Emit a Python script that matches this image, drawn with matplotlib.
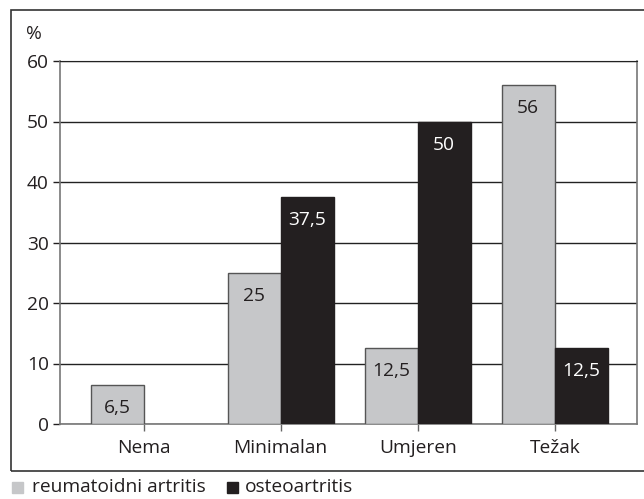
import matplotlib.pyplot as plt
from matplotlib.patches import Rectangle
import numpy as np

plt.rcParams['font.family'] = ['Open Sans', 'DejaVu Sans']

categories = ['Nema', 'Minimalan', 'Umjeren', 'Težak']
reumatoidni = [6.5, 25, 12.5, 56]
osteo = [0, 37.5, 50, 12.5]
reum_labels = ['6,5', '25', '12,5', '56']
osteo_labels = ['', '37,5', '50', '12,5']
series_names = ['reumatoidni artritis', 'osteoartritis']

gray = '#c6c7c9'
black = '#231f20'
fs = 13.8

fig = plt.figure(figsize=(6.44, 4.99), dpi=100)
ax = fig.add_axes([60 / 644, 75 / 499, 577 / 644, 363 / 499])

x = np.arange(len(categories))
w = 0.387
b1 = ax.bar(x - w / 2, reumatoidni, w, color=gray, edgecolor='#555555', linewidth=1, zorder=3)
b2 = ax.bar(x + w / 2, osteo, w, color=black, edgecolor=black, linewidth=1, zorder=3)
for rect in b2:
    if rect.get_height() == 0:
        rect.set_linewidth(0)

for rect, lab in zip(b1, reum_labels):
    ax.annotate(lab, (rect.get_x() + rect.get_width() / 2, rect.get_height()),
                xytext=(0, -23), textcoords='offset pixels', ha='center', va='center',
                fontsize=fs, color='#231f20', zorder=4)
for rect, lab in zip(b2, osteo_labels):
    if lab:
        ax.annotate(lab, (rect.get_x() + rect.get_width() / 2, rect.get_height()),
                    xytext=(0, -23), textcoords='offset pixels', ha='center', va='center',
                    fontsize=fs, color='white', zorder=4)

ax.set_xlim(-0.61, 3.6)
ax.set_ylim(0, 60)
ax.set_yticks(range(0, 61, 10))
ax.set_xticks(x)
ax.set_xticklabels(categories, fontsize=fs, color='#231f20')
ax.tick_params(axis='y', labelsize=fs, colors='#231f20', length=5, width=1, pad=3)
ax.tick_params(axis='x', length=5, width=1, color='#666666', pad=6)
ax.yaxis.grid(True, color='#222222', linewidth=1, zorder=0)
ax.set_axisbelow(True)
for s in ['left', 'bottom', 'right']:
    ax.spines[s].set_color('#777777')
    ax.spines[s].set_linewidth(1.2)
ax.spines['top'].set_color('#222222')

fig.text(26 / 644, 1 - 34 / 499, '%', fontsize=fs, color='#231f20', va='center', ha='left')

# outer frame
fig.patches.append(Rectangle((11 / 644, 1 - 471 / 499), 640 / 644, 461 / 499,
                             transform=fig.transFigure, fill=False,
                             edgecolor='#333333', linewidth=1.2))

# legend
fig.patches.append(Rectangle((12 / 644, 1 - 493 / 499), 11 / 644, 11 / 499,
                             transform=fig.transFigure, color=gray))
fig.text(32 / 644, 1 - 487 / 499, series_names[0], fontsize=fs, color='#231f20', va='center')
fig.patches.append(Rectangle((227 / 644, 1 - 493 / 499), 11 / 644, 11 / 499,
                             transform=fig.transFigure, color=black))
fig.text(245 / 644, 1 - 487 / 499, series_names[1], fontsize=fs, color='#231f20', va='center')

fig.savefig('out.png', dpi=100)
